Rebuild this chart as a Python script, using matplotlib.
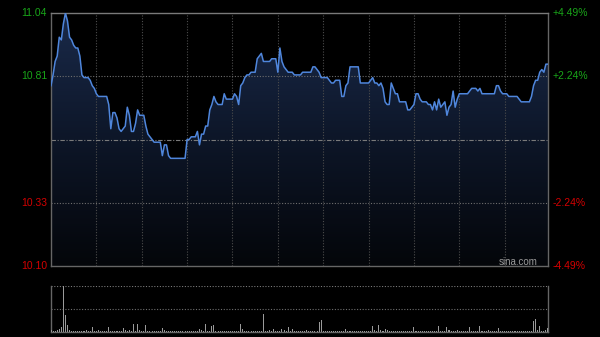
import numpy as np
import matplotlib
matplotlib.use('Agg')
from matplotlib import pyplot as plt
from matplotlib.colors import LinearSegmentedColormap

plt.rcParams['font.family'] = ['Liberation Sans', 'DejaVu Sans']

# minute prices, 9:30-11:30 + 13:00-15:00
price = [10.77, 10.81, 10.86, 10.88, 10.95, 10.94, 11.00, 11.04, 11.01, 10.95,
         10.94, 10.92, 10.91, 10.91, 10.88, 10.81, 10.80, 10.80, 10.80, 10.79,
         10.77, 10.76, 10.74, 10.73, 10.73, 10.73, 10.73, 10.73, 10.70, 10.61,
         10.67, 10.67, 10.65, 10.61, 10.60, 10.61, 10.62, 10.69, 10.66, 10.60,
         10.60, 10.63, 10.68, 10.66, 10.66, 10.66, 10.62, 10.59, 10.58, 10.57,
         10.56, 10.56, 10.56, 10.56, 10.51, 10.55, 10.55, 10.51, 10.50, 10.50,
         10.50, 10.50, 10.50, 10.50, 10.50, 10.50, 10.57, 10.57, 10.58, 10.58,
         10.58, 10.60, 10.55, 10.59, 10.59, 10.62, 10.62, 10.68, 10.70, 10.73,
         10.71, 10.70, 10.70, 10.70, 10.74, 10.72, 10.72, 10.72, 10.72, 10.74,
         10.73, 10.70, 10.77, 10.78, 10.80, 10.81, 10.81, 10.82, 10.82, 10.82,
         10.87, 10.88, 10.89, 10.86, 10.86, 10.86, 10.86, 10.87, 10.87, 10.87,
         10.82, 10.91, 10.86, 10.84, 10.83, 10.82, 10.82, 10.82, 10.81, 10.81,
         10.81, 10.81, 10.82, 10.82, 10.82, 10.82, 10.82, 10.84, 10.84, 10.83,
         10.82, 10.80, 10.80, 10.80, 10.80, 10.79, 10.78, 10.78, 10.79, 10.79,
         10.79, 10.73, 10.73, 10.77, 10.78, 10.84, 10.84, 10.84, 10.84, 10.84,
         10.78, 10.78, 10.78, 10.78, 10.78, 10.79, 10.80, 10.78, 10.78, 10.77,
         10.78, 10.76, 10.71, 10.70, 10.70, 10.78, 10.76, 10.74, 10.74, 10.71,
         10.71, 10.71, 10.71, 10.68, 10.68, 10.69, 10.70, 10.74, 10.74, 10.72,
         10.71, 10.71, 10.71, 10.70, 10.70, 10.68, 10.71, 10.68, 10.72, 10.69,
         10.70, 10.71, 10.66, 10.69, 10.70, 10.75, 10.69, 10.72, 10.74, 10.74,
         10.74, 10.74, 10.74, 10.75, 10.76, 10.76, 10.76, 10.75, 10.76, 10.74,
         10.74, 10.74, 10.74, 10.74, 10.74, 10.74, 10.77, 10.77, 10.75, 10.74,
         10.74, 10.74, 10.73, 10.73, 10.73, 10.73, 10.73, 10.72, 10.71, 10.71,
         10.71, 10.71, 10.71, 10.73, 10.77, 10.79, 10.79, 10.82, 10.83, 10.82,
         10.85, 10.85]

volume = [2, 1.5, 1, 2, 3, 5, 47, 17, 7, 2,
          1.5, 1, 1, 1.5, 1, 1, 1, 2.3, 1, 1.5,
          5, 1, 1.5, 2.3, 1, 1, 1, 1, 5, 1.5,
          1, 1, 1, 1, 1.5, 4, 2, 1.5, 2.3, 1.5,
          7.7, 1.5, 7.7, 2.3, 1, 1.5, 6.7, 1.5, 1, 0.8,
          0.8, 1, 1, 1, 4, 2, 1, 1, 0.8, 0.8,
          0.8, 0.8, 1, 0.8, 1, 1, 1.5, 1, 1, 1,
          1, 1.5, 3.3, 2.3, 1.5, 8.3, 1, 1.5, 5.7, 6.7,
          1.5, 1, 1, 0.8, 1, 1, 1, 1, 1, 1,
          1.5, 1, 8.3, 3, 1.5, 1, 1, 1, 1.5, 1,
          1, 1, 1, 18.3, 1.5, 1, 2.3, 1, 3.3, 1.5,
          1, 1, 3, 2, 1.5, 5, 1.5, 3, 1, 1,
          1, 1.5, 1.5, 1, 2.3, 1, 1, 1, 1, 1.5,
          10, 12.3, 1.5, 1, 1, 1, 1.5, 1, 1, 1,
          1, 1, 1, 3.3, 1, 1, 1, 1, 1, 1,
          1, 1, 1, 1, 1.5, 1, 5.7, 2, 1.5, 7.3,
          2.3, 1, 3, 2, 1, 1, 1, 1, 1, 1,
          1, 1, 1, 1, 1, 1, 5, 1.5, 1, 1,
          1, 1, 1, 1, 1.5, 1, 1, 1, 5.7, 1.5,
          1, 1.5, 5, 2, 1, 1.5, 1, 2, 1, 1,
          1, 1, 1.5, 5, 1, 1, 1.5, 1, 5.7, 1.5,
          1, 1, 2.3, 1, 1, 1.5, 1, 4, 1.5, 1,
          1, 1, 1, 1, 1, 1, 1, 1, 1, 1,
          1, 1, 1, 1.5, 11.7, 13.3, 2, 5.7, 1.5, 1,
          2, 4]

prev_close = 10.57
y_low, y_high = 10.10, 11.04
left_labels = ['11.04', '10.81', '10.33', '10.10']
right_labels = ['+4.49%', '+2.24%', '-2.24%', '-4.49%']
label_prices = [11.04, 10.805, 10.335, 10.10]
label_colors = ['#19a519', '#19a519', '#d40000', '#d40000']

x = np.arange(len(price))
n = len(price) - 1

fig = plt.figure(figsize=(6, 3.37), dpi=100, facecolor='black')
ax = fig.add_axes([0.085, 0.2107, 0.8283, 0.7507], facecolor='black')
axv = fig.add_axes([0.085, 0.0148, 0.8283, 0.1365], facecolor='black')

# gradient fill under the line
cmap = LinearSegmentedColormap.from_list('g', ['#04060a', '#0d1628', '#1a2a4a'])
grad = np.linspace(0, 1, 256).reshape(-1, 1)
im = ax.imshow(grad, cmap=cmap, aspect='auto', origin='lower',
               extent=[0, n, y_low, y_high], zorder=1)
poly = ax.fill_between(x, price, y_low, color='none', zorder=1)
im.set_clip_path(poly.get_paths()[0], transform=ax.transData)

grid_c = '#4c4c4c'
for k in range(1, 11):
    ax.axvline(22 * k, color=grid_c, lw=0.8, ls=(0, (1, 1.5)), zorder=2)
for p in [10.805, 10.335]:
    ax.axhline(p, color='#6e6e6e', lw=0.8, ls=(0, (1, 1.5)), zorder=2)
ax.axhline(prev_close, color='#7a7a7a', lw=0.8, ls=(0, (4, 1.5, 1, 1.5)), zorder=2)

ax.plot(x, price, color='#4f86dc', lw=1.1, zorder=3)

ax.set_xlim(0, n)
ax.set_ylim(y_low, y_high)
ax.set_xticks([])
ax.set_yticks([])
for s in ax.spines.values():
    s.set_color('#666666')
    s.set_linewidth(1)
ax.spines['top'].set_color('#7a7a7a')

tr = ax.get_yaxis_transform()
for lab, rlab, p, c in zip(left_labels, right_labels, label_prices, label_colors):
    ax.text(-0.008, p, lab, color=c, fontsize=7.5, ha='right', va='center', transform=tr)
    ax.text(1.01, p, rlab, color=c, fontsize=7.5, ha='left', va='center', transform=tr)

ax.text(0.98, -0.002, 'sina.com', color='#9a9a9a', fontsize=7, ha='right', va='bottom',
        transform=ax.transAxes, zorder=4)

# volume panel
vmax = max(volume)
axv.bar(x, volume, width=0.5, color='#9a9a9a', zorder=3)
axv.set_xlim(0, n)
axv.set_ylim(0, vmax)
axv.axhline(vmax, color='#7a7a7a', lw=0.8, ls=(0, (1, 1.5)), zorder=2)
axv.axhline(vmax / 2, color='#6e6e6e', lw=0.8, ls=(0, (1, 1.5)), zorder=2)
axv.set_xticks([])
axv.set_yticks([])
for s in axv.spines.values():
    s.set_color('#666666')
    s.set_linewidth(1)
axv.spines['top'].set_visible(False)

plt.savefig('out.png', dpi=100, facecolor='black')
